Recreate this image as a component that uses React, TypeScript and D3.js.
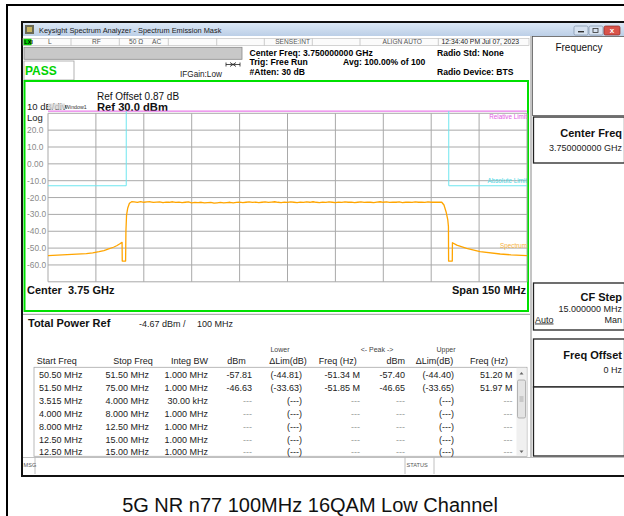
import { line, scaleLinear } from "d3";

const FONT = "'Liberation Sans', Arial, Helvetica, sans-serif";

// frequency axis (offset from 3.75 GHz, MHz) and amplitude axis (dBm)
const spanMHz = [-75, 75];
const refRange = [30, -70];
const gridFreqs = [-75, -60, -45, -30, -15, 0, 15, 30, 45, 60, 75];
const gridLevels = [30, 20, 10, 0, -10, -20, -30, -40, -50, -60, -70];
const yTickValues = [20, 10, 0, -10, -20, -30, -40, -50, -60];
const yTickLabels = ["20.0", "10.0", "0.00", "-10.0", "-20.0", "-30.0", "-40.0", "-50.0", "-60.0"];

const absoluteLimitDbm = -13;
const absoluteLimitEdges = [-50.5, 50.5];
const relativeLimitDbm = 31.3;

// spectrum trace
const lowerSkirt: [number, number][] = [
  [-75, -54.5], [-72, -54.2], [-69, -53.9], [-66, -53.6], [-63, -53.3], [-61, -52.8], [-59, -52.1],
  [-57.5, -51.5], [-56, -50.5], [-54.5, -49.5], [-53.5, -48.6], [-52.6, -47.6], [-51.8, -46.6],
  [-51.75, -57.7], [-50.7, -57.7], [-50.6, -40], [-50.4, -30.4], [-50.05, -26.4], [-49.5, -23.4], [-48.8, -22.5]
];
const flatTopStartMHz = -48;
const flatTopDbm = [
  -22.6, -22.9, -22.4, -22.8, -22.6, -22.5, -22.9, -22.7, -22.6, -23.0,
  -22.7, -22.8, -22.5, -22.9, -22.7, -23.0, -22.8, -22.6, -23.1, -22.9,
  -23.0, -22.8, -23.2, -23.0, -22.9, -23.3, -23.1, -22.9, -23.2, -23.0,
  -22.8, -23.1, -22.9, -22.7, -23.0, -22.8, -22.6, -22.9, -22.7, -23.0,
  -22.8, -22.6, -22.9, -22.7, -22.5, -22.8, -23.0, -22.7, -22.9, -22.6,
  -22.8, -23.0, -22.7, -22.9, -22.6, -22.8, -22.5, -22.8, -23.0, -22.7,
  -22.9, -22.6, -22.8, -23.0, -22.7, -22.9, -22.6, -22.8, -22.7, -23.0,
  -22.8, -22.6, -22.9, -22.7, -22.8, -23.0, -22.7, -22.5, -22.8, -22.6,
  -22.9, -22.7, -22.8, -22.6, -23.0, -22.8, -22.7, -22.9, -22.6, -22.8,
  -22.7, -22.9, -22.6, -22.8, -22.7, -22.8
];
const upperSkirt: [number, number][] = [
  [48.3, -22.8], [49.0, -24.4], [49.65, -28.4], [50.2, -33.3], [50.4, -37.3], [50.45, -57.7],
  [51.6, -57.7], [51.65, -46.8], [53, -48.2], [56.1, -50.1], [60.3, -52.1], [66.6, -53.5], [70, -54.0], [75, -54.5]
];

// result table
const startFreqs = ["50.50 MHz", "51.50 MHz", "3.515 MHz", "4.000 MHz", "8.000 MHz", "12.50 MHz", "12.50 MHz"];
const stopFreqs = ["51.50 MHz", "75.00 MHz", "4.000 MHz", "8.000 MHz", "12.50 MHz", "15.00 MHz", "15.00 MHz"];
const integBWs = ["1.000 MHz", "1.000 MHz", "30.00 kHz", "1.000 MHz", "1.000 MHz", "1.000 MHz", "1.000 MHz"];
const lowerDbm = ["-57.81", "-46.63", "---", "---", "---", "---", "---"];
const lowerDelta = ["(-44.81)", "(-33.63)", "(---)", "(---)", "(---)", "(---)", "(---)"];
const lowerPeakFreq = ["-51.34 M", "-51.85 M", "---", "---", "---", "---", "---"];
const upperDbm = ["-57.40", "-46.65", "---", "---", "---", "---", "---"];
const upperDelta = ["(-44.40)", "(-33.65)", "(---)", "(---)", "(---)", "(---)", "(---)"];
const upperPeakFreq = ["51.20 M", "51.97 M", "---", "---", "---", "---", "---"];

const tableColumns = [startFreqs, stopFreqs, integBWs, lowerDbm, lowerDelta, lowerPeakFreq, upperDbm, upperDelta, upperPeakFreq];
const columnRight = [82.5, 149, 208, 252, 302, 360, 405, 454, 512.5];

const statusCells = [
  { x: 48, text: "L" },
  { x: 92, text: "RF" },
  { x: 129, text: "50 Ω" },
  { x: 152, text: "AC" }
];
const statusSeparators = [71, 119.3, 168.3, 216.7, 264.3, 312.3, 360, 438.3];

export default function App() {
  const x = scaleLinear().domain(spanMHz).range([48, 527]);
  const y = scaleLinear().domain(refRange).range([113.3, 281.8]);

  const tracePoints: [number, number][] = [
    ...lowerSkirt,
    ...flatTopDbm.map((v, i) => [flatTopStartMHz + i, v] as [number, number]),
    ...upperSkirt
  ];
  const tracePath = line<[number, number]>()
    .x((d) => x(d[0]))
    .y((d) => y(d[1]))(tracePoints) ?? "";

  const [limLo, limHi] = absoluteLimitEdges;
  const absPath = `M ${x(-75)} ${y(absoluteLimitDbm)} H ${x(limLo)} V ${y(relativeLimitDbm)} M ${x(limHi)} ${y(relativeLimitDbm)} V ${y(absoluteLimitDbm)} H ${x(75)}`;

  const rowY = (i: number) => 378 + i * 12.9;

  return (
    <svg
      width={624}
      height={516}
      viewBox="0 0 624 516"
      style={{ position: "absolute", left: 0, top: 0, background: "#fff" }}
      fontFamily={FONT}
    >
      <defs>
        <linearGradient id="titlebar" x1="0" y1="0" x2="0" y2="1">
          <stop offset="0" stopColor="#dbe7f5" />
          <stop offset="1" stopColor="#bccfe7" />
        </linearGradient>
        <clipPath id="plotClip">
          <rect x={48} y={108} width={479.5} height={174} />
        </clipPath>
      </defs>

      {/* outer frame */}
      <rect x={0} y={0} width={624} height={516} fill="#fff" />
      <path d="M 7 516 V 5 H 624" fill="none" stroke="#000" strokeWidth={2} />

      {/* window */}
      <rect x={22} y={22} width={604} height={454} fill="#fff" stroke="#111" strokeWidth={2} />
      <rect x={23} y={23} width={601} height={13} fill="url(#titlebar)" />
      <rect x={25} y={25} width={9} height={9} fill="#6a6a55" />
      <rect x={27} y={27} width={5} height={5} fill="#c8b560" />
      <text x={39} y={32.5} fontSize={7.4} fill="#1a1a1a">Keysight Spectrum Analyzer - Spectrum Emission Mask</text>
      <rect x={574} y={26} width={14} height={9} rx={1.5} fill="#d6e2f0" stroke="#7d8fa8" strokeWidth={0.7} />
      <rect x={578} y={31} width={6} height={1.4} fill="#333" />
      <rect x={589} y={26} width={14} height={9} rx={1.5} fill="#d6e2f0" stroke="#7d8fa8" strokeWidth={0.7} />
      <rect x={593} y={28.5} width={5} height={4} fill="none" stroke="#333" strokeWidth={0.8} />
      <rect x={604} y={26} width={16} height={9} rx={1.5} fill="#d9534a" stroke="#8c2a22" strokeWidth={0.7} />
      <text x={612} y={33.3} fontSize={8} fontWeight="bold" fill="#fff" textAnchor="middle">x</text>

      {/* status row */}
      <rect x={23} y={38.5} width={506} height={7} fill="#fbfbfb" stroke="#b8b8b8" strokeWidth={0.6} />
      <rect x={23.5} y={38.8} width={8} height={6.4} fill="#0c0" />
      <text x={24.3} y={44.2} fontSize={5.5} fontWeight="bold" fill="#000">LXI</text>
      {statusSeparators.map((sx) => (
        <line key={sx} x1={sx} x2={sx} y1={38.5} y2={45.5} stroke="#b8b8b8" strokeWidth={0.7} />
      ))}
      {statusCells.map((c) => (
        <text key={c.text} x={c.x} y={44.3} fontSize={6.6} fill="#555">{c.text}</text>
      ))}
      <text x={310} y={44.3} fontSize={6.6} fill="#555" textAnchor="end">SENSE:INT</text>
      <text x={422} y={44.3} fontSize={6.6} fill="#555" textAnchor="end">ALIGN AUTO</text>
      <text x={441.5} y={44.3} fontSize={6.8} fill="#222">12:34:40 PM Jul 07, 2023</text>

      {/* measurement header */}
      <rect x={24} y={47.3} width={218} height={12} fill="#c8c8c8" stroke="#8a8a8a" strokeWidth={0.8} />
      <text x={249.5} y={55.5} fontSize={8.6} fontWeight="bold">Center Freq: 3.750000000 GHz</text>
      <text x={249.5} y={65.2} fontSize={8.6} fontWeight="bold">Trig: Free Run</text>
      <text x={249.5} y={74.8} fontSize={8.6} fontWeight="bold">#Atten: 30 dB</text>
      <text x={343} y={65.2} fontSize={8.6} fontWeight="bold">Avg: 100.00% of 100</text>
      <text x={437} y={55.5} fontSize={8.6} fontWeight="bold">Radio Std: None</text>
      <text x={437} y={74.8} fontSize={8.6} fontWeight="bold">Radio Device: BTS</text>
      <rect x={24} y={61} width={50} height={19} fill="#fff" stroke="#a0a0a0" strokeWidth={0.8} />
      <text x={25} y={74.6} fontSize={12} fontWeight="bold" fill="#00d200">PASS</text>
      <text x={180} y={76.5} fontSize={8.2} fill="#222">IFGain:Low</text>
      <path d="M 226 64.5 H 240 M 230 62.5 L 233 64.5 L 230 66.5 M 236 62.5 L 233 64.5 L 236 66.5" fill="none" stroke="#222" strokeWidth={0.8} />
      <path d="M 226 62.5 V 66.5 M 240 62.5 V 66.5" stroke="#222" strokeWidth={0.8} />

      {/* plot area */}
      <rect x={24.5} y={81} width={503.5} height={230} fill="#fff" stroke="#00e000" strokeWidth={2} />
      <text x={97} y={99.5} fontSize={10} fill="#111">Ref Offset 0.87 dB</text>
      <text x={97} y={110.5} fontSize={11.2} fontWeight="bold" fill="#111">Ref 30.0 dBm</text>
      <text x={27} y={110} fontSize={9.5} fill="#222">10 dB/div</text>
      <rect x={48} y={103.5} width={17} height={6} fill="#d8d8d8" fillOpacity={0.8} />
      <text x={65} y={109} fontSize={5.3} fill="#333">Window1</text>
      <text x={27} y={120.5} fontSize={9.5} fill="#222">Log</text>

      {gridLevels.map((lv) => (
        <line key={`h${lv}`} x1={x(-75)} x2={x(75)} y1={y(lv)} y2={y(lv)} stroke="#a9a9a9" strokeWidth={1} />
      ))}
      {gridFreqs.map((f) => (
        <line key={`v${f}`} x1={x(f)} x2={x(f)} y1={y(30)} y2={y(-70)} stroke="#a9a9a9" strokeWidth={1} />
      ))}
      {yTickValues.map((v, i) => (
        <text key={v} x={27} y={y(v) + 3} fontSize={8.4} fill="#8a8a8a">{yTickLabels[i]}</text>
      ))}

      <line x1={x(-75)} x2={x(75)} y1={y(relativeLimitDbm)} y2={y(relativeLimitDbm)} stroke="#e35be3" strokeWidth={1} />
      <path d={absPath} fill="none" stroke="#6ee6ef" strokeWidth={1} />
      <path d={tracePath} fill="none" stroke="#ffa500" strokeWidth={1.3} strokeLinejoin="round" clipPath="url(#plotClip)" />

      <text x={527} y={118.5} fontSize={6.3} fill="#e35be3" textAnchor="end">Relative Limit</text>
      <text x={527} y={183} fontSize={6.3} fill="#4fd7e4" textAnchor="end">Absolute Limit</text>
      <text x={527} y={248} fontSize={6.3} fill="#f5b040" textAnchor="end">Spectrum</text>

      <text x={27} y={293.5} fontSize={11} fontWeight="bold" fill="#111">{"Center\u00a0\u00a03.75 GHz"}</text>
      <text x={526} y={293.5} fontSize={11} fontWeight="bold" fill="#111" textAnchor="end">Span 150 MHz</text>

      {/* results */}
      <line x1={23} x2={530} y1={314.3} y2={314.3} stroke="#9a9a9a" strokeWidth={1} />
      <text x={28} y={326.5} fontSize={11} fontWeight="bold" fill="#111">Total Power Ref</text>
      <text x={139} y={326.5} fontSize={9} fill="#222">-4.67 dBm /</text>
      <text x={197} y={326.5} fontSize={9} fill="#222">100 MHz</text>

      <text x={280} y={352} fontSize={7} fill="#444" textAnchor="middle">Lower</text>
      <text x={377} y={352} fontSize={7} fill="#444" textAnchor="middle">{"<- Peak ->"}</text>
      <text x={446} y={352} fontSize={7} fill="#444" textAnchor="middle">Upper</text>
      <text x={36.7} y={363.5} fontSize={9} fill="#222">Start Freq</text>
      <text x={152.7} y={363.5} fontSize={9} fill="#222" textAnchor="end">Stop Freq</text>
      <text x={208} y={363.5} fontSize={9} fill="#222" textAnchor="end">Integ BW</text>
      <text x={245.7} y={363.5} fontSize={9} fill="#222" textAnchor="end">dBm</text>
      <text x={306.7} y={363.5} fontSize={9} fill="#222" textAnchor="end">ΔLim(dB)</text>
      <text x={356.7} y={363.5} fontSize={9} fill="#222" textAnchor="end">Freq (Hz)</text>
      <text x={405} y={363.5} fontSize={9} fill="#222" textAnchor="end">dBm</text>
      <text x={453.3} y={363.5} fontSize={9} fill="#222" textAnchor="end">ΔLim(dB)</text>
      <text x={508} y={363.5} fontSize={9} fill="#222" textAnchor="end">Freq (Hz)</text>

      <rect x={34} y={367.3} width={493} height={89} fill="#fff" stroke="#a8a8a8" strokeWidth={0.8} />
      {tableColumns.map((col, ci) =>
        col.map((cell, ri) => (
          <text
            key={`${ci}-${ri}`}
            x={columnRight[ci]}
            y={rowY(ri)}
            fontSize={9}
            textAnchor="end"
            fill={cell === "---" ? "#9a9a9a" : "#222"}
          >
            {cell}
          </text>
        ))
      )}
      {/* scrollbar */}
      <rect x={516.5} y={367.8} width={10} height={88} fill="#f0f0f0" />
      <path d="M 519.5 374.5 L 521.5 372 L 523.5 374.5 Z" fill="#666" />
      <path d="M 519.5 450.5 L 521.5 453 L 523.5 450.5 Z" fill="#666" />
      <rect x={517.5} y={380} width={8} height={38} rx={1.5} fill="#e4e4e4" stroke="#9a9a9a" strokeWidth={0.7} />
      <path d="M 519.5 397 H 523.5 M 519.5 399 H 523.5 M 519.5 401 H 523.5" stroke="#888" strokeWidth={0.6} />

      {/* message bar */}
      <line x1={23} x2={624} y1={457.5} y2={457.5} stroke="#b0b0b0" strokeWidth={0.8} />
      <line x1={35} x2={35} y1={457.5} y2={474} stroke="#b0b0b0" strokeWidth={0.8} />
      <text x={23.5} y={467} fontSize={5.6} fill="#555">MSG</text>
      <line x1={405} x2={405} y1={457.5} y2={474} stroke="#b0b0b0" strokeWidth={0.8} />
      <line x1={434} x2={434} y1={457.5} y2={474} stroke="#b0b0b0" strokeWidth={0.8} />
      <text x={406.5} y={467} fontSize={5.6} fill="#555">STATUS</text>

      {/* softkey panel */}
      <line x1={531} x2={531} y1={36} y2={457} stroke="#8a8a8a" strokeWidth={1} />
      <rect x={532.5} y={36.5} width={92} height={79} fill="#fff" stroke="#555" strokeWidth={0.8} />
      <text x={579} y={50.5} fontSize={10} fill="#111" textAnchor="middle">Frequency</text>
      <rect x={533.5} y={117} width={91} height={46} fill="#fff" stroke="#222" strokeWidth={1.3} />
      <text x={622} y={136.5} fontSize={11} fontWeight="bold" fill="#111" textAnchor="end">Center Freq</text>
      <text x={622} y={150.5} fontSize={9} fill="#222" textAnchor="end">3.750000000 GHz</text>
      <rect x={533.5} y={283} width={91} height={47} fill="#fff" stroke="#222" strokeWidth={1.3} />
      <text x={622} y={300.5} fontSize={11} fontWeight="bold" fill="#111" textAnchor="end">CF Step</text>
      <text x={622} y={311.5} fontSize={9} fill="#222" textAnchor="end">15.000000 MHz</text>
      <text x={535} y={322.5} fontSize={9} fill="#222" textDecoration="underline">Auto</text>
      <text x={622} y={322.5} fontSize={9} fill="#222" textAnchor="end">Man</text>
      <rect x={533.5} y={339} width={91} height={48} fill="#fff" stroke="#222" strokeWidth={1.3} />
      <text x={622} y={359} fontSize={11} fontWeight="bold" fill="#111" textAnchor="end">Freq Offset</text>
      <text x={622} y={373} fontSize={9} fill="#222" textAnchor="end">0 Hz</text>
      <rect x={533.5} y={387} width={91} height={69} fill="#fff" stroke="#222" strokeWidth={1.3} />

      {/* caption */}
      <text x={310} y={512} fontSize={20} fill="#111" textAnchor="middle">5G NR n77 100MHz 16QAM Low Channel</text>
    </svg>
  );
}
